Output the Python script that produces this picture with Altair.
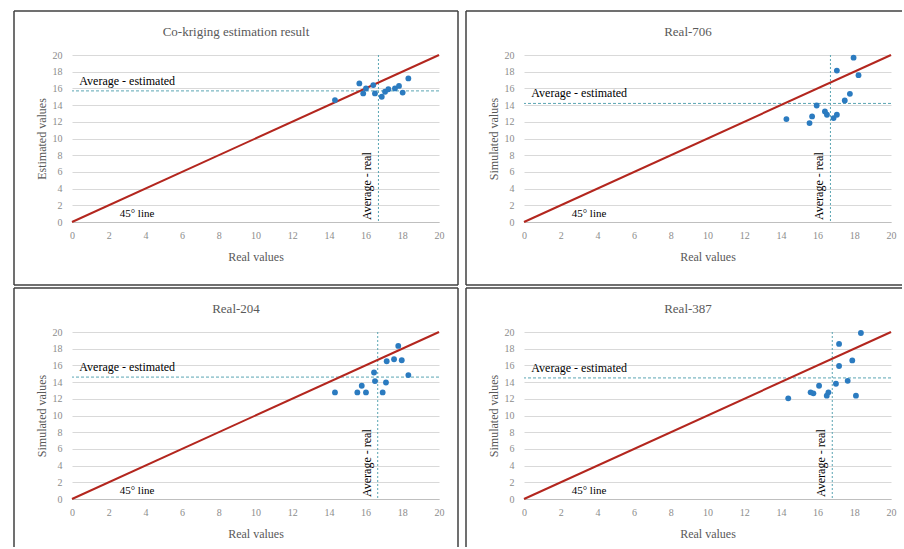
import altair as alt
import pandas as pd

# ---------------- data ----------------
titles = ["Co-kriging estimation result", "Real-706", "Real-204", "Real-387"]
y_titles = ["Estimated values", "Simulated values", "Simulated values", "Simulated values"]

real_1 = [14.33, 15.66, 15.87, 16.02, 16.42, 16.51, 16.88, 17.06, 17.24, 17.60, 17.82, 18.02, 18.33]
est_1 = [14.6, 16.6, 15.4, 16.0, 16.4, 15.4, 15.0, 15.6, 15.9, 16.0, 16.3, 15.5, 17.2]

real_2 = [14.30, 15.56, 15.70, 15.95, 16.40, 16.51, 16.87, 17.05, 17.05, 17.48, 17.76, 17.96, 18.23]
sim_2 = [12.33, 11.85, 12.64, 13.95, 13.24, 12.84, 12.45, 12.84, 18.13, 14.55, 15.35, 19.68, 17.58]

real_3 = [14.33, 15.55, 15.79, 16.02, 16.46, 16.51, 16.93, 17.11, 17.15, 17.55, 17.78, 17.97, 18.33]
sim_3 = [12.76, 12.76, 13.56, 12.76, 15.15, 14.12, 12.76, 13.95, 16.50, 16.74, 18.33, 16.62, 14.84]

real_4 = [14.40, 15.62, 15.77, 16.08, 16.50, 16.59, 17.00, 17.17, 17.17, 17.64, 17.89, 18.09, 18.36]
sim_4 = [12.06, 12.77, 12.65, 13.56, 12.38, 12.77, 13.80, 15.93, 18.57, 14.15, 16.60, 12.38, 19.88]

avg_real = [16.7, 16.7, 16.66, 16.8]
avg_est = [15.7, 14.2, 14.6, 14.5]

line_45_x = [0, 20]
line_45_y = [0, 20]

tick_values = [0, 2, 4, 6, 8, 10, 12, 14, 16, 18, 20]

label_avg_est = "Average - estimated"
label_avg_real = "Average - real"
label_45 = "45° line"

# ---------------- style ----------------
W, H = 367, 167
FONT = "Liberation Serif"
POINT_COLOR = "#2B7BC0"
RED = "#B3261E"
AVG_COLOR = "#5AA5B3"
FRAME = "#404040"


def edge(x1, x2, y1, y2):
    return alt.Chart(pd.DataFrame({"e": [0]})).mark_rule(
        color=FRAME, strokeWidth=1.5
    ).encode(
        x=alt.value(x1), x2=alt.value(x2), y=alt.value(y1), y2=alt.value(y2)
    )


def panel(i, xs, ys, left_col, top_row):
    scale = alt.Scale(domain=[0, 20], nice=False)
    X = alt.X(
        "x:Q",
        scale=scale,
        axis=alt.Axis(
            values=tick_values, title="Real values", grid=False,
            domain=True, domainColor="#bfbfbf", domainWidth=1,
            ticks=False, tickSize=0, labelPadding=8, labelFontSize=10,
            labelColor="#8c8c8c", labelFont=FONT, labelFlush=False,
            titleFont=FONT, titleFontSize=12, titleFontWeight="normal",
            titleColor="#595959", titlePadding=11,
        ),
    )
    Y = alt.Y(
        "y:Q",
        scale=scale,
        axis=alt.Axis(
            values=tick_values, title=y_titles[i], grid=True,
            gridColor="#d9d9d9", gridWidth=1, domain=False,
            ticks=False, tickSize=0, labelPadding=10, labelFontSize=10,
            labelColor="#8c8c8c", labelFont=FONT, labelFlush=False,
            titleFont=FONT, titleFontSize=12, titleFontWeight="normal",
            titleColor="#595959", titlePadding=4,
        ),
    )

    pts = pd.DataFrame({"x": xs, "y": ys})
    ref = pd.DataFrame({"x": line_45_x, "y": line_45_y})
    avg = pd.DataFrame({"x": [avg_real[i]], "y": [avg_est[i]]})

    h_rule = alt.Chart(avg).mark_rule(
        color=AVG_COLOR, strokeDash=[3, 2], strokeWidth=1
    ).encode(y=Y)
    v_rule = alt.Chart(avg).mark_rule(
        color=AVG_COLOR, strokeDash=[2, 2], strokeWidth=1
    ).encode(x=X)

    line = alt.Chart(ref).mark_line(color=RED, strokeWidth=2).encode(x=X, y=Y)

    points = alt.Chart(pts).mark_circle(
        size=34, color=POINT_COLOR, opacity=1
    ).encode(x=X, y=Y)

    t_est = alt.Chart(
        pd.DataFrame({"x": [0.4], "y": [avg_est[i]], "label": [label_avg_est]})
    ).mark_text(
        align="left", baseline="bottom", dy=-3, font=FONT, fontSize=12, color="black"
    ).encode(x=X, y=Y, text="label:N")

    t_real = alt.Chart(
        pd.DataFrame({"x": [avg_real[i]], "y": [0], "label": [label_avg_real]})
    ).mark_text(
        angle=270, align="left", baseline="bottom", dx=2, dy=-4,
        font=FONT, fontSize=12, color="black"
    ).encode(x=X, y=Y, text="label:N")

    t_45 = alt.Chart(
        pd.DataFrame({"x": [2.6], "y": [1.0], "label": [label_45]})
    ).mark_text(
        align="left", baseline="middle", font=FONT, fontSize=11, color="black"
    ).encode(x=X, y=Y, text="label:N")

    title = alt.Chart(pd.DataFrame({"t": [titles[i]]})).mark_text(
        align="center", baseline="middle", font=FONT, fontSize=13, color="#595959"
    ).encode(x=alt.value(164), y=alt.value(-23), text="t:N")

    left, top = -58, -44
    right = 386 if left_col else 378
    bottom = 230 if top_row else 215
    edges = [edge(left, right, top, top), edge(left, left, top, bottom)]
    if left_col:
        edges.append(edge(right, right, top, bottom))
    if top_row:
        edges.append(edge(left, right, bottom, bottom))

    return alt.layer(
        h_rule, v_rule, line, points, t_est, t_real, t_45, title, *edges
    ).properties(width=W, height=H)


p1 = panel(0, real_1, est_1, True, True)
p2 = panel(1, real_2, sim_2, False, True)
p3 = panel(2, real_3, sim_3, True, False)
p4 = panel(3, real_4, sim_4, False, False)

chart = alt.vconcat(
    alt.hconcat(p1, p2, spacing=6),
    alt.hconcat(p3, p4, spacing=6),
    spacing=1,
).properties(
    padding={"left": 13, "top": 10, "right": 0, "bottom": 0},
    background="white",
).configure_view(strokeWidth=0)

chart.save("out.html", embed_options={"renderer": "svg", "actions": False})
